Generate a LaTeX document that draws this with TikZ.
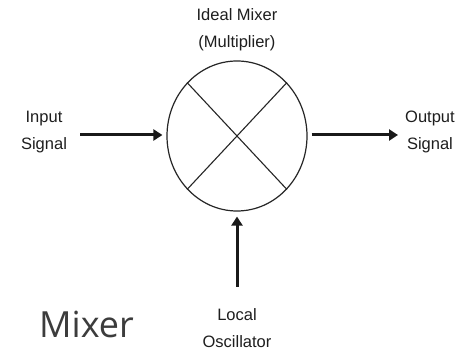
\documentclass[tikz,border=0pt]{standalone}
\usepackage{fontspec}
\setmainfont{Liberation Sans}
\newfontfamily\captionfont{Open Sans}
\usepackage{xcolor}
\usepackage{tikz}
\usetikzlibrary{arrows.meta,positioning,shapes.geometric}
\definecolor{labelgray}{HTML}{1E1E1E}
\definecolor{titlegray}{HTML}{3C3C3C}

\begin{document}
\begin{tikzpicture}[
    x=1pt, y=-1pt,
    >={Triangle[length=9pt,width=11pt]},
    mixer/.style={draw=black!85, ellipse, line width=1.2pt, minimum width=140pt, minimum height=150pt, inner sep=0pt},
    cross/.style={draw=black!85, line width=1.1pt},
    feed/.style={->, line width=3pt, black!90},
    lbl/.style={font=\fontsize{16.5}{27}\selectfont, text=labelgray, align=center, inner sep=0pt}
]
\useasboundingbox[fill=white] (0,0) rectangle (456,352);
\node[mixer] (mix) at (237,136) {};
\draw[cross] (mix.north west) -- (mix.south east);
\draw[cross] (mix.north east) -- (mix.south west);
\node[lbl] (title) at (237,30) {Ideal Mixer\\(Multiplier)};
\node[lbl] (in) at (44,132) {Input\\Signal};
\node[lbl, anchor=west] (out) at (405,132) {Output\\Signal};
\node[lbl] (lo) at (237,328) {Local\\Oscillator};
\coordinate (inStart) at (80,135);
\coordinate (outEnd) at (398,135);
\coordinate (loStart) at (237,287);
\draw[feed, shorten >=4pt] (inStart) -- (mix.west |- inStart);
\draw[feed, shorten <=4pt] (mix.east |- outEnd) -- (outEnd);
\draw[feed, shorten >=5pt] (loStart) -- (mix.south);
\node[font=\captionfont\fontsize{36}{40}\selectfont, text=titlegray, anchor=base west, inner sep=0pt] (caption) at (39,338) {Mixer};
\end{tikzpicture}
\end{document}
